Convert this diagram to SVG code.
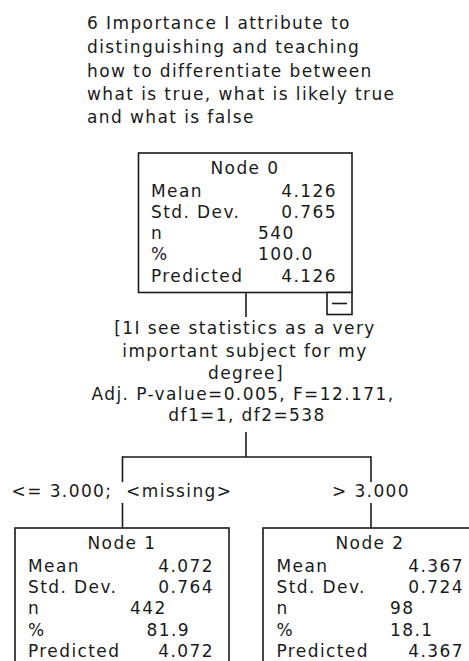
<svg xmlns="http://www.w3.org/2000/svg" width="469" height="661" viewBox="0 0 469 661">
<style>
text{font-family:"DejaVu Sans","Liberation Sans",sans-serif;font-size:17px;letter-spacing:1.4px;fill:#1a1a1a}
.c{text-anchor:middle}
.e{text-anchor:end}
.box{fill:#fff;stroke:#1a1a1a;stroke-width:1.6}
.ln{stroke:#1a1a1a;stroke-width:1.6;fill:none}
</style>
<rect width="469" height="661" fill="#fff"/>
<g id="title">
<text x="87" y="29">6 Importance I attribute to</text>
<text x="87" y="53">distinguishing and teaching</text>
<text x="87" y="77">how to differentiate between</text>
<text x="87" y="100">what is true, what is likely true</text>
<text x="87" y="123">and what is false</text>
</g>
<g id="connectors">
<line class="ln" x1="246" y1="292.5" x2="246" y2="317"/>
<line class="ln" x1="246" y1="432" x2="246" y2="457"/>
<line class="ln" x1="122.5" y1="457" x2="371" y2="457"/>
<line class="ln" x1="122.5" y1="456.2" x2="122.5" y2="482"/>
<line class="ln" x1="122.5" y1="503" x2="122.5" y2="528"/>
<line class="ln" x1="371" y1="456.2" x2="371" y2="482"/>
<line class="ln" x1="371" y1="503" x2="371" y2="528"/>
</g>
<g id="split">
<text class="c" x="245" y="334">[1I see statistics as a very</text>
<text class="c" x="245" y="357">important subject for my</text>
<text class="c" x="246" y="379">degree]</text>
<text class="c" x="243" y="400">Adj. P-value=0.005, F=12.171,</text>
<text class="c" x="247" y="421">df1=1, df2=538</text>
<text class="c" x="122" y="497">&lt;= 3.000;&#160; &lt;missing&gt;</text>
<text class="c" x="371" y="497">&gt; 3.000</text>
</g>
<g id="node0">
<rect class="box" x="138.5" y="153" width="213.5" height="139.5"/>
<text class="c" x="245" y="174">Node 0</text>
<text x="151" y="197">Mean</text><text class="e" x="337" y="197">4.126</text>
<text x="151" y="218">Std. Dev.</text><text class="e" x="337" y="218">0.765</text>
<text x="151" y="239">n</text><text x="258" y="239">540</text>
<text x="151" y="260">%</text><text x="258" y="260">100.0</text>
<text x="151" y="282">Predicted</text><text class="e" x="337" y="282">4.126</text>
<rect class="box" x="327" y="292.5" width="25" height="22"/>
<line class="ln" x1="332" y1="303.5" x2="347" y2="303.5"/>
</g>
<g id="node1">
<rect class="box" x="15" y="528" width="214" height="150"/>
<text class="c" x="122" y="549">Node 1</text>
<text x="28" y="572">Mean</text><text class="e" x="214" y="572">4.072</text>
<text x="28" y="593">Std. Dev.</text><text class="e" x="214" y="593">0.764</text>
<text x="28" y="614">n</text><text x="130" y="614">442</text>
<text x="28" y="636">%</text><text x="146.5" y="636">81.9</text>
<text x="28" y="657">Predicted</text><text class="e" x="214" y="657">4.072</text>
</g>
<g id="node2">
<rect class="box" x="263" y="528" width="214" height="150"/>
<text class="c" x="370" y="549">Node 2</text>
<text x="276.5" y="572">Mean</text><text class="e" x="464" y="572">4.367</text>
<text x="276.5" y="593">Std. Dev.</text><text class="e" x="464" y="593">0.724</text>
<text x="276.5" y="614">n</text><text x="390" y="614">98</text>
<text x="276.5" y="636">%</text><text x="390" y="636">18.1</text>
<text x="276.5" y="657">Predicted</text><text class="e" x="464" y="657">4.367</text>
</g>
</svg>
